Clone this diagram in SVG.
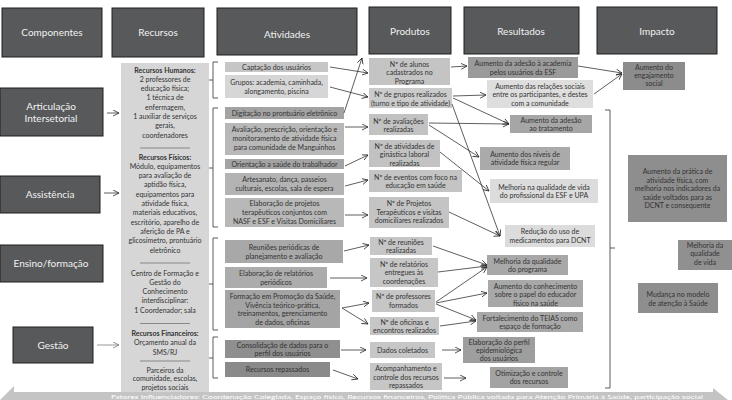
<svg xmlns="http://www.w3.org/2000/svg" width="732" height="400" viewBox="0 0 732 400">
<defs>
<marker id="ah" markerWidth="7" markerHeight="7" refX="6" refY="3" orient="auto" markerUnits="userSpaceOnUse">
<path d="M0,0 L6,3 L0,6" fill="none" stroke="#2a2a2a" stroke-width="0.8"/>
</marker>
<marker id="ahg" markerWidth="7" markerHeight="7" refX="6" refY="3" orient="auto" markerUnits="userSpaceOnUse">
<path d="M0,0 L6,3 L0,6" fill="none" stroke="#777" stroke-width="0.8"/>
</marker>
<style>
text{font-family:Lato,"Open Sans","Liberation Sans",sans-serif;text-anchor:middle}
.hdr rect{fill:#58595b;stroke:#1e1e1e;stroke-width:1}
.hdr text{fill:#f2f2f2;font-size:10px}
.t{font-size:7px;fill:#333}
.b{font-weight:bold}
.ln{stroke:#2a2a2a;stroke-width:0.75;fill:none;marker-end:url(#ah)}
.br{stroke:#333;stroke-width:0.8;fill:none}
.sep{stroke:#555;stroke-width:0.6}
</style>
</defs>
<rect width="732" height="400" fill="#fff"/>

<!-- headers -->
<g id="h-componentes" class="hdr"><rect x="2" y="8" width="100" height="49"/><text x="52" y="36">Componentes</text></g>
<g id="h-recursos" class="hdr"><rect x="112" y="8" width="92" height="49"/><text x="158" y="36">Recursos</text></g>
<g id="h-atividades" class="hdr"><rect x="217" y="8" width="140" height="47"/><text x="287" y="38">Atividades</text></g>
<g id="h-produtos" class="hdr"><rect x="369" y="7" width="82" height="47"/><text x="410" y="35">Produtos</text></g>
<g id="h-resultados" class="hdr"><rect x="464" y="7" width="115" height="47"/><text x="521" y="35">Resultados</text></g>
<g id="h-impacto" class="hdr"><rect x="597" y="7" width="120" height="47"/><text x="657" y="35">Impacto</text></g>

<!-- components -->
<g id="c-articulacao" class="hdr"><rect x="0" y="88" width="103" height="48"/><text x="51" y="110">Articulação</text><text x="51" y="122">Intersetorial</text></g>
<g id="c-assistencia" class="hdr"><rect x="0" y="176" width="100" height="37"/><text x="50" y="198">Assistência</text></g>
<g id="c-ensino" class="hdr"><rect x="0" y="245" width="103" height="37"/><text x="51" y="267">Ensino/formação</text></g>
<g id="c-gestao" class="hdr"><rect x="13" y="327" width="80" height="36"/><text x="53" y="349">Gestão</text></g>

<!-- recursos panel -->
<g id="recursos">
<rect x="121" y="63" width="88" height="329" fill="#d6d6d6"/>
<text class="t b" x="165" y="72.5">Recursos Humanos:</text>
<text class="t" x="165" y="81.8">2 professores de</text>
<text class="t" x="165" y="91.1">educação física;</text>
<text class="t" x="165" y="100.4">1 técnica de</text>
<text class="t" x="165" y="109.7">enfermagem,</text>
<text class="t" x="165" y="119">1 auxiliar de serviços</text>
<text class="t" x="165" y="128.3">gerais,</text>
<text class="t" x="165" y="137.6">coordenadores</text>
<line class="sep" x1="140" y1="148" x2="190" y2="148"/>
<text class="t b" x="165" y="159.5">Recursos Físicos:</text>
<text class="t" x="165" y="168.8">Módulo, equipamentos</text>
<text class="t" x="165" y="178.1">para avaliação de</text>
<text class="t" x="165" y="187.4">aptidão física,</text>
<text class="t" x="165" y="196.7">equipamentos  para</text>
<text class="t" x="165" y="206">atividade física,</text>
<text class="t" x="165" y="215.3">materiais educativos,</text>
<text class="t" x="165" y="224.6">escritório, aparelho de</text>
<text class="t" x="165" y="233.9">aferição de PA e</text>
<text class="t" x="165" y="243.2">glicosímetro, prontuário</text>
<text class="t" x="165" y="252.5">eletrônico</text>
<line class="sep" x1="140" y1="263" x2="190" y2="263"/>
<text class="t" x="165" y="275.5">Centro de Formação  e</text>
<text class="t" x="165" y="284.8">Gestão do</text>
<text class="t" x="165" y="294.1">Conhecimento</text>
<text class="t" x="165" y="303.4">interdisciplinar:</text>
<text class="t" x="165" y="312.7">1 Coordenador; sala</text>
<line class="sep" x1="140" y1="323.5" x2="190" y2="323.5"/>
<text class="t b" x="165" y="336">Recursos Financeiros:</text>
<text class="t" x="165" y="345.3">Orçamento anual da</text>
<text class="t" x="165" y="354.6">SMS/RJ</text>
<line class="sep" x1="140" y1="361" x2="190" y2="361"/>
<text class="t" x="165" y="372.5">Parceiros da</text>
<text class="t" x="165" y="381.3">comunidade, escolas,</text>
<text class="t" x="165" y="390">projetos sociais</text>
</g>

<!-- atividades -->
<g id="a-captacao"><rect x="225" y="62" width="103" height="10" fill="#c6c6c6"/><text class="t" x="276.5" y="69.5">Captação dos usuários</text></g>
<g id="a-grupos"><rect x="225" y="75" width="103" height="23" fill="#d6d6d6"/><text class="t" x="276.5" y="84.5">Grupos:  academia, caminhada,</text><text class="t" x="276.5" y="93.5">alongamento, piscina</text></g>
<g id="a-digitacao"><rect x="225" y="107" width="119" height="12" fill="#a3a3a3"/><text class="t" x="284.5" y="115.5">Digitação no prontuário eletrônico</text></g>
<g id="a-avaliacao"><rect x="225" y="123" width="119" height="32" fill="#b8b8b8"/><text class="t" x="284.5" y="132">Avaliação, prescrição, orientação e</text><text class="t" x="284.5" y="141">monitoramento de atividade física</text><text class="t" x="284.5" y="150">para comunidade de Manguinhos</text></g>
<g id="a-orientacao"><rect x="225" y="159" width="119" height="10" fill="#a3a3a3"/><text class="t" x="284.5" y="166.5">Orientação a saúde do trabalhador</text></g>
<g id="a-artesanato"><rect x="225" y="173" width="119" height="22" fill="#b3b3b3"/><text class="t" x="284.5" y="182">Artesanato, dança,  passeios</text><text class="t" x="284.5" y="191">culturais, escolas, sala de espera</text></g>
<g id="a-projetos"><rect x="225" y="198" width="119" height="29" fill="#b8b8b8"/><text class="t" x="284.5" y="206">Elaboração de projetos</text><text class="t" x="284.5" y="215">terapêuticos conjuntos com</text><text class="t" x="284.5" y="224">NASF e ESF e Visitas Domiciliares</text></g>
<g id="a-reunioes"><rect x="225" y="240" width="118" height="23" fill="#a8a8a8"/><text class="t" x="284" y="249.5">Reuniões periódicas de</text><text class="t" x="284" y="258.5">planejamento e avaliação</text></g>
<g id="a-relatorios"><rect x="225" y="267" width="102" height="21" fill="#acacac"/><text class="t" x="276" y="275.5">Elaboração de relatórios</text><text class="t" x="276" y="284.5">periódicos</text></g>
<g id="a-formacao"><rect x="225" y="290" width="115" height="38" fill="#a4a4a4"/><text class="t" x="282.5" y="299">Formação em Promoção da Saúde,</text><text class="t" x="282.5" y="307.5">Vivência teórico-prática,</text><text class="t" x="282.5" y="316">treinamentos, gerenciamento</text><text class="t" x="282.5" y="324.5">de dados,  oficinas</text></g>
<g id="a-consolidacao"><rect x="225" y="340" width="115" height="18" fill="#8f8f8f"/><text class="t" x="282.5" y="347.5">Consolidação de dados para  o</text><text class="t" x="282.5" y="356">perfil dos usuários</text></g>
<g id="a-repassados"><rect x="225" y="362" width="105" height="15" fill="#8a8a8a"/><text class="t" x="277.5" y="372">Recursos repassados</text></g>

<!-- produtos -->
<g id="p-alunos"><rect x="369" y="58" width="81" height="27" fill="#c4c4c4"/><text class="t" x="409.5" y="66.5">Nº de alunos</text><text class="t" x="409.5" y="75">cadastrados no</text><text class="t" x="409.5" y="83.5">Programa</text></g>
<g id="p-grupos"><rect x="369" y="88" width="83" height="20" fill="#cbcbcb"/><text class="t" x="410.5" y="97">Nº de grupos realizados</text><text class="t" x="410.5" y="105.5">(turno e tipo de atividade)</text></g>
<g id="p-avaliacoes"><rect x="369" y="114" width="59" height="21" fill="#c2c2c2"/><text class="t" x="398.5" y="123.5">Nº de avaliações</text><text class="t" x="398.5" y="132">realizadas</text></g>
<g id="p-ginastica"><rect x="369" y="140" width="71" height="27" fill="#c2c2c2"/><text class="t" x="404.5" y="148.5">Nº de atividades de</text><text class="t" x="404.5" y="157">ginástica laboral</text><text class="t" x="404.5" y="165.5">realizadas</text></g>
<g id="p-eventos"><rect x="369" y="170" width="93" height="22" fill="#c4c4c4"/><text class="t" x="415.5" y="179.5">Nº de eventos com foco na</text><text class="t" x="415.5" y="188">educação em saúde</text></g>
<g id="p-projetos"><rect x="369" y="197" width="80" height="31" fill="#c4c4c4"/><text class="t" x="409" y="206">Nº de Projetos</text><text class="t" x="409" y="214.5">Terapêuticos e visitas</text><text class="t" x="409" y="223">domiciliares realizados</text></g>
<g id="p-reunioes"><rect x="370" y="237" width="62" height="18" fill="#c6c6c6"/><text class="t" x="401" y="244.5">Nº de reuniões</text><text class="t" x="401" y="253">realizadas</text></g>
<g id="p-relatorios"><rect x="370" y="258" width="68" height="29" fill="#c6c6c6"/><text class="t" x="404" y="266.5">Nº de relatórios</text><text class="t" x="404" y="275">entregues às</text><text class="t" x="404" y="283.5">coordenações</text></g>
<g id="p-professores"><rect x="372" y="290" width="63" height="22" fill="#c6c6c6"/><text class="t" x="403.5" y="299">Nº de professores</text><text class="t" x="403.5" y="307.5">formados</text></g>
<g id="p-oficinas"><rect x="370" y="317" width="69" height="18" fill="#c6c6c6"/><text class="t" x="404.5" y="324.5">Nº de oficinas e</text><text class="t" x="404.5" y="333">encontros realizados</text></g>
<g id="p-dados"><rect x="370" y="342" width="65" height="16" fill="#c6c6c6"/><text class="t" x="402.5" y="352.5">Dados coletados</text></g>
<g id="p-acompanhamento"><rect x="370" y="363" width="72" height="27" fill="#c6c6c6"/><text class="t" x="406" y="371">Acompanhamento e</text><text class="t" x="406" y="379.5">controle dos recursos</text><text class="t" x="406" y="388">repassados</text></g>

<!-- resultados -->
<g id="r-academia"><rect x="468" y="57" width="110" height="21" fill="#9a9a9a"/><text class="t" x="523" y="66">Aumento da adesão à academia</text><text class="t" x="523" y="74.5">pelos usuários da ESF</text></g>
<g id="r-relacoes"><rect x="487" y="80" width="106" height="28" fill="#dedede"/><text class="t" x="540" y="88.5">Aumento das relações sociais</text><text class="t" x="540" y="97">entre os participantes, e destes</text><text class="t" x="540" y="105.5">com a comunidade</text></g>
<g id="r-tratamento"><rect x="510" y="115" width="82" height="18" fill="#a6a6a6"/><text class="t" x="551" y="122.5">Aumento da adesão</text><text class="t" x="551" y="131">ao tratamento</text></g>
<g id="r-niveis"><rect x="480" y="147" width="90" height="23" fill="#aaaaaa"/><text class="t" x="525" y="156.5">Aumento dos níveis de</text><text class="t" x="525" y="165">atividade física regular</text></g>
<g id="r-qvprof"><rect x="490" y="179" width="108" height="24" fill="#dcdcdc"/><text class="t" x="544" y="189.5">Melhoria na qualidade de vida</text><text class="t" x="544" y="198">do profissional da ESF e UPA</text></g>
<g id="r-reducao"><rect x="505" y="225" width="90" height="22" fill="#dcdcdc"/><text class="t" x="550" y="234">Redução do uso de</text><text class="t" x="550" y="242.5">medicamentos para DCNT</text></g>
<g id="r-programa"><rect x="487" y="255" width="81" height="20" fill="#a8a8a8"/><text class="t" x="527.5" y="263.5">Melhoria da qualidade</text><text class="t" x="527.5" y="272">do programa</text></g>
<g id="r-conhecimento"><rect x="488" y="280" width="95" height="27" fill="#a8a8a8"/><text class="t" x="535.5" y="288.5">Aumento do conhecimento</text><text class="t" x="535.5" y="297">sobre o papel do educador</text><text class="t" x="535.5" y="305.5">físico na saúde</text></g>
<g id="r-teias"><rect x="477" y="312" width="106" height="20" fill="#a8a8a8"/><text class="t" x="530" y="320.5">Fortalecimento do TEIAS como</text><text class="t" x="530" y="329">espaço de formação</text></g>
<g id="r-perfil"><rect x="463" y="337" width="72" height="26" fill="#9e9e9e"/><text class="t" x="499" y="345">Elaboração do perfil</text><text class="t" x="499" y="353">epidemiológica</text><text class="t" x="499" y="361">dos usuários</text></g>
<g id="r-otimizacao"><rect x="490" y="367" width="78" height="21" fill="#a3a3a3"/><text class="t" x="529" y="375.5">Otimização e controle</text><text class="t" x="529" y="384">dos recursos</text></g>

<!-- impacto -->
<g id="i-engajamento"><rect x="623" y="62" width="62" height="28" fill="#8c8c8c"/><text class="t" x="654" y="69.5">Aumento do</text><text class="t" x="654" y="77.5">engajamento</text><text class="t" x="654" y="85.5">social</text></g>
<g id="i-pratica"><rect x="628" y="155" width="99" height="67" fill="#8e8e8e"/><text class="t" x="677.5" y="174">Aumento da prática de</text><text class="t" x="677.5" y="182.5">atividade física, com</text><text class="t" x="677.5" y="191">melhoria nos indicadores da</text><text class="t" x="677.5" y="199.5">saúde voltados para as</text><text class="t" x="677.5" y="208">DCNT e consequente</text></g>
<g id="i-qualidade"><rect x="678" y="240" width="54" height="30" fill="#909090"/><text class="t" x="705" y="247.5">Melhoria da</text><text class="t" x="705" y="256">qualidade</text><text class="t" x="705" y="264.5">de vida</text></g>
<g id="i-mudanca"><rect x="638" y="283" width="80" height="30" fill="#8e8e8e"/><text class="t" x="678" y="296.5">Mudança no modelo</text><text class="t" x="678" y="305.5">de atenção à Saúde</text></g>

<!-- brackets -->
<g id="brackets">
<path class="br" d="M218,62 H213 V98 H218 M213,80 H209"/>
<path class="br" d="M218,108 H213 V227 H218 M213,168 H209"/>
<path class="br" d="M218,238 H213 V330 H218 M213,284 H209"/>
<path class="br" d="M218,337 H213 V378 H218 M213,358 H209"/>
<path class="br" d="M605,110 H610 V388 H605 M610,248 H615"/>
</g>

<!-- connectors -->
<g id="connectors">
<line class="ln" x1="107" y1="113" x2="119" y2="113"/>
<line class="ln" x1="104" y1="193" x2="119" y2="193"/>
<line x1="97" y1="345" x2="119" y2="345" stroke="#777" stroke-width="0.75" marker-end="url(#ahg)"/>
<line class="ln" x1="330" y1="67" x2="368" y2="73"/>
<line class="ln" x1="330" y1="87" x2="368" y2="97"/>
<line class="ln" x1="344" y1="113" x2="362" y2="58"/>
<line class="ln" x1="345" y1="127" x2="368" y2="127"/>
<line class="ln" x1="345" y1="166" x2="368" y2="155"/>
<line class="ln" x1="345" y1="186" x2="368" y2="180"/>
<line class="ln" x1="345" y1="215" x2="368" y2="215"/>
<line class="ln" x1="344" y1="251" x2="369" y2="245"/>
<line class="ln" x1="330" y1="278" x2="367" y2="278"/>
<line class="ln" x1="342" y1="308" x2="369" y2="303"/>
<line class="ln" x1="342" y1="308" x2="368" y2="324"/>
<line class="ln" x1="341" y1="350" x2="366" y2="350"/>
<line class="ln" x1="333" y1="370" x2="358" y2="379"/>
<line class="ln" x1="451" y1="67" x2="467" y2="66"/>
<line class="ln" x1="453" y1="96" x2="486" y2="95"/>
<line class="ln" x1="453" y1="98" x2="509" y2="124"/>
<line class="ln" x1="429" y1="123" x2="509" y2="124"/>
<line class="ln" x1="429" y1="125" x2="479" y2="157"/>
<line class="ln" x1="452" y1="104" x2="500" y2="236"/>
<line class="ln" x1="440" y1="152" x2="489" y2="191"/>
<line class="ln" x1="449" y1="212" x2="500" y2="236"/>
<line class="ln" x1="433" y1="246" x2="487" y2="265"/>
<line class="ln" x1="438" y1="272" x2="487" y2="266"/>
<line class="ln" x1="436" y1="302" x2="487" y2="267"/>
<line class="ln" x1="436" y1="303" x2="487" y2="293"/>
<line class="ln" x1="436" y1="304" x2="476" y2="320"/>
<line class="ln" x1="440" y1="326" x2="476" y2="321"/>
<line class="ln" x1="442" y1="350" x2="461" y2="350"/>
<line class="ln" x1="444" y1="378" x2="466" y2="378"/>
<line class="ln" x1="578" y1="66" x2="622" y2="73"/>
<line class="ln" x1="594" y1="94" x2="622" y2="74"/>
</g>

<!-- bottom bar -->
<g id="fatores">
<polygon points="0,400 14,386 14,392 713,392 713,388 728,400" fill="#c4c4c4"/>
<text x="407" y="399" font-size="6.5" fill="#ffffff" textLength="592" lengthAdjust="spacingAndGlyphs">Fatores Influenciadores: Coordenação Colegiada, Espaço físico, Recursos financeiros, Política Pública voltada para Atenção Primária à Saúde, participação social</text>
</g>
</svg>
